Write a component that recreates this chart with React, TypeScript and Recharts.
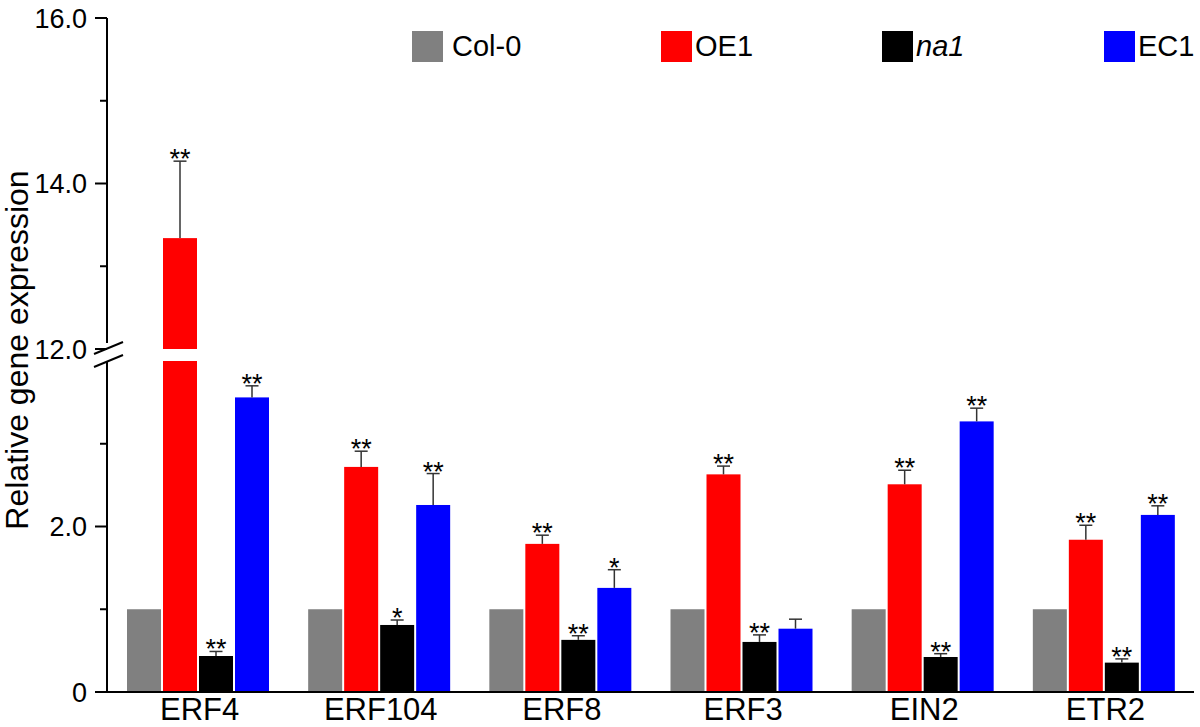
import React from "react";
import { BarChart, Bar, XAxis, YAxis } from "recharts";

// ---------- data ----------
const CATEGORIES = ["ERF4", "ERF104", "ERF8", "ERF3", "EIN2", "ETR2"];

const COL0 = [1.0, 1.0, 1.0, 1.0, 1.0, 1.0];
const COL0_ERR = [0, 0, 0, 0, 0, 0];
const COL0_SIG = ["", "", "", "", "", ""];

const OE1 = [13.34, 2.72, 1.79, 2.63, 2.51, 1.84];
const OE1_ERR = [0.93, 0.19, 0.105, 0.1, 0.17, 0.175];
const OE1_SIG = ["**", "**", "**", "**", "**", "**"];

const NA1 = [0.435, 0.81, 0.63, 0.605, 0.423, 0.355];
const NA1_ERR = [0.055, 0.06, 0.05, 0.085, 0.04, 0.045];
const NA1_SIG = ["**", "*", "**", "**", "**", "**"];

const EC1 = [3.56, 2.26, 1.258, 0.765, 3.27, 2.14];
const EC1_ERR = [0.14, 0.38, 0.22, 0.115, 0.16, 0.11];
const EC1_SIG = ["**", "**", "*", "", "**", "**"];

const Y_TICKS = [0, 1, 2, 3, 12, 13, 14, 15, 16];
const Y_TICK_LABELS = ["0", "", "2.0", "", "12.0", "", "14.0", "", "16.0"];

// broken axis: 0..4 then 12..16
const BREAK_LOW = 4.0;
const BREAK_HIGH = 12.0;
const BREAK_GAP = 0.145;
const toDisplay = (v: number) =>
  v <= BREAK_LOW ? v : v - BREAK_HIGH + BREAK_LOW + BREAK_GAP;

type Series = {
  key: string;
  name: string;
  color: string;
  italic: boolean;
  values: number[];
  errs: number[];
  sig: string[];
};

const SERIES: Series[] = [
  { key: "col0", name: "Col-0", color: "#808080", italic: false, values: COL0, errs: COL0_ERR, sig: COL0_SIG },
  { key: "oe1", name: "OE1", color: "#ff0000", italic: false, values: OE1, errs: OE1_ERR, sig: OE1_SIG },
  { key: "na1", name: "na1", color: "#000000", italic: true, values: NA1, errs: NA1_ERR, sig: NA1_SIG },
  { key: "ec1", name: "EC1", color: "#0000ff", italic: false, values: EC1, errs: EC1_ERR, sig: EC1_SIG },
];

const data = CATEGORIES.map((c) => {
  const row: Record<string, any> = { category: c };
  return row;
});
SERIES.forEach((s) => {
  s.values.forEach((v, i) => {
    data[i][s.key] = toDisplay(v);
  });
});

const BOUNDARY_TICKS = CATEGORIES.map((_, i) => i).concat([CATEGORIES.length]);

// ---------- styling ----------
const FONT = "'Liberation Sans', Arial, Helvetica, sans-serif";
const LEGEND_LAYOUT = [
  { sq: 412, tx: 452 },
  { sq: 661, tx: 695 },
  { sq: 882, tx: 916 },
  { sq: 1104, tx: 1138 },
];

function makeShape(s: Series) {
  return (props: any) => {
    const { x, y, width, height, payload } = props;
    let idx = CATEGORIES.indexOf(payload?.category);
    if (idx < 0) idx = props.index ?? 0;
    const raw = s.values[idx];
    const disp = toDisplay(raw);
    const bottom = y + height;
    const ppu = height / disp;
    const yOf = (d: number) => bottom - d * ppu;
    const cx = x + width / 2;
    const parts: React.ReactNode[] = [];
    if (raw > BREAK_HIGH) {
      const yLow = yOf(BREAK_LOW);
      const yHigh = yOf(BREAK_LOW + BREAK_GAP);
      parts.push(<rect key="lo" x={x} y={yLow} width={width} height={bottom - yLow} fill={s.color} />);
      parts.push(<rect key="hi" x={x} y={y} width={width} height={yHigh - y} fill={s.color} />);
    } else {
      parts.push(<rect key="r" x={x} y={y} width={width} height={height} fill={s.color} />);
    }
    const err = s.errs[idx];
    let topY = y;
    if (err > 0) {
      const ey = yOf(toDisplay(raw + err));
      topY = ey;
      parts.push(<line key="e1" x1={cx} y1={y} x2={cx} y2={ey} stroke="#333" strokeWidth={1.5} />);
      parts.push(<line key="e2" x1={cx - 6.5} y1={ey} x2={cx + 6.5} y2={ey} stroke="#333" strokeWidth={1.5} />);
    }
    const sig = s.sig[idx];
    if (sig) {
      parts.push(
        <text key="s" x={cx} y={topY + 7} textAnchor="middle" fontSize={27} fontFamily={FONT} fill="#000">
          {sig}
        </text>
      );
    }
    return <g>{parts}</g>;
  };
}

const YTick = (props: any) => {
  const { x, y, payload } = props;
  const disp = Y_TICKS.map(toDisplay);
  const i = disp.findIndex((d) => Math.abs(d - payload.value) < 1e-6);
  const label = i >= 0 ? Y_TICK_LABELS[i] : "";
  const major = label !== "";
  const isBreak = i >= 0 && Y_TICKS[i] === BREAK_HIGH;
  return (
    <g>
      {isBreak && <rect x={x - 4} y={y - 6} width={8} height={18} fill="#fff" />}
      <line x1={x - (major ? 12 : 7)} y1={y} x2={x} y2={y} stroke="#000" strokeWidth={2} />
      {isBreak && (
        <>
          <line x1={x - 13} y1={y + 5} x2={x + 16} y2={y - 7} stroke="#000" strokeWidth={2} />
          <line x1={x - 13} y1={y + 18} x2={x + 16} y2={y + 6} stroke="#000" strokeWidth={2} />
        </>
      )}
      {major && (
        <text x={x - 20} y={y} dy="0.36em" textAnchor="end" fontSize={27} fontFamily={FONT} fill="#000">
          {label}
        </text>
      )}
    </g>
  );
};

const XTick = (props: any) => {
  const { x, y, payload } = props;
  return (
    <text x={x + 2} y={y + 28} textAnchor="middle" fontSize={31} fontFamily={FONT} fill="#000">
      {payload.value}
    </text>
  );
};

const YTitle = (props: any) => {
  const vb = props.viewBox || { x: 0, y: 18, width: 107, height: 674 };
  const cx = vb.x + 28;
  const cy = vb.y + vb.height / 2 - 5;
  return (
    <text
      x={cx}
      y={cy}
      textAnchor="middle"
      transform={`rotate(-90, ${cx}, ${cy})`}
      fontSize={32}
      fontFamily={FONT}
      fill="#000"
    >
      Relative gene expression
    </text>
  );
};

export default function App() {
  return (
    <div style={{ position: "absolute", left: 0, top: 0, width: 1200, height: 727, background: "#fff" }}>
      <BarChart
        width={1200}
        height={727}
        data={data}
        margin={{ top: 18, right: 6, left: 0, bottom: 0 }}
        barSize={34}
        barGap={2}
      >
        <XAxis
          xAxisId="bounds"
          type="number"
          domain={[0, CATEGORIES.length]}
          ticks={BOUNDARY_TICKS}
          height={0}
          axisLine={false}
          tickLine={{ stroke: "#000", strokeWidth: 2 }}
          tickSize={8}
          tick={() => <g />}
        />
        <XAxis
          xAxisId="cat"
          dataKey="category"
          height={35}
          interval={0}
          tickLine={false}
          tickSize={0}
          tickMargin={0}
          axisLine={{ stroke: "#000", strokeWidth: 2 }}
          tick={<XTick />}
        />
        <YAxis
          type="number"
          width={107}
          domain={[0, toDisplay(16)]}
          ticks={Y_TICKS.map(toDisplay)}
          interval={0}
          tickLine={false}
          tickSize={0}
          tickMargin={0}
          axisLine={{ stroke: "#000", strokeWidth: 2 }}
          tick={<YTick />}
          label={{ content: <YTitle /> }}
        />
        {SERIES.map((s) => (
          <Bar
            key={s.key}
            xAxisId="cat"
            dataKey={s.key}
            name={s.name}
            fill={s.color}
            isAnimationActive={false}
            shape={makeShape(s)}
          />
        ))}
      </BarChart>
      {SERIES.map((s, i) => (
        <div key={s.key}>
          <div
            style={{
              position: "absolute",
              left: LEGEND_LAYOUT[i].sq,
              top: 31,
              width: 31,
              height: 31,
              background: s.color,
            }}
          />
          <div
            style={{
              position: "absolute",
              left: LEGEND_LAYOUT[i].tx,
              top: 31,
              height: 31,
              lineHeight: "31px",
              fontSize: 29,
              fontFamily: FONT,
              fontStyle: s.italic ? "italic" : "normal",
              color: "#000",
              whiteSpace: "nowrap",
            }}
          >
            {s.name}
          </div>
        </div>
      ))}
    </div>
  );
}
